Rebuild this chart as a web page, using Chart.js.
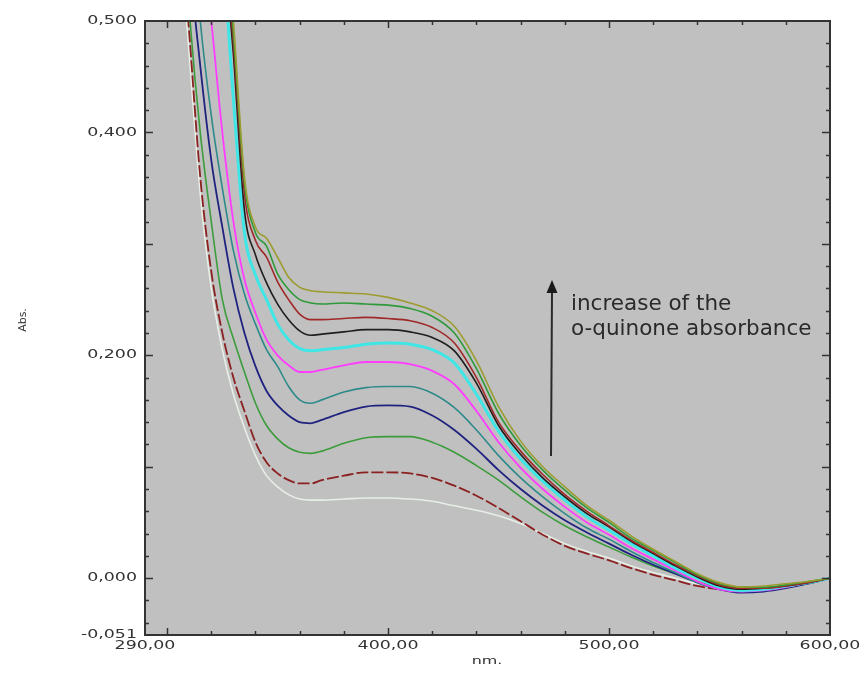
<!DOCTYPE html>
<html>
<head>
<meta charset="utf-8">
<script src="https://cdn.jsdelivr.net/npm/chart.js@4/dist/chart.umd.min.js"></script>
<style>
  html, body { margin: 0; padding: 0; background: #fff; }
  canvas { display: block; }
</style>
</head>
<body>
<canvas id="grafico" width="859" height="673"></canvas>
<script>
// longitudes de onda (nm)
const wavelengths = [300, 305, 310, 315, 320, 325, 330, 335, 340, 345, 350, 355, 360, 365, 370,
  380, 390, 400, 410, 420, 430, 440, 450, 460, 470, 480, 490, 500, 510, 520, 530, 540, 550, 560, 570, 580, 590, 600];

// espectros, de arriba hacia abajo
const absOlive = [1.0, 0.95, 0.89, 0.81, 0.72, 0.62, 0.50, 0.36, 0.315, 0.305, 0.288, 0.270, 0.261, 0.258, 0.257,
  0.256, 0.255, 0.252, 0.247, 0.240, 0.226, 0.195, 0.154, 0.123, 0.100, 0.082, 0.065, 0.052, 0.038, 0.026, 0.015, 0.004, -0.004, -0.008, -0.007, -0.005, -0.003, 0.0];
const absGreen2 = [1.0, 0.95, 0.88, 0.80, 0.71, 0.61, 0.49, 0.355, 0.31, 0.298, 0.273, 0.259, 0.250, 0.247, 0.246,
  0.247, 0.246, 0.245, 0.242, 0.235, 0.220, 0.188, 0.148, 0.119, 0.097, 0.079, 0.063, 0.050, 0.036, 0.025, 0.014, 0.003, -0.005, -0.008, -0.008, -0.006, -0.003, 0.0];
const absRed = [1.0, 0.94, 0.87, 0.79, 0.70, 0.60, 0.48, 0.345, 0.303, 0.288, 0.266, 0.250, 0.237, 0.232, 0.232,
  0.233, 0.234, 0.233, 0.231, 0.225, 0.211, 0.180, 0.140, 0.114, 0.093, 0.075, 0.060, 0.047, 0.034, 0.023, 0.012, 0.002, -0.006, -0.009, -0.009, -0.007, -0.004, 0.0];
const absBlack = [1.0, 0.93, 0.86, 0.78, 0.69, 0.59, 0.47, 0.33, 0.29, 0.265, 0.246, 0.232, 0.222, 0.218, 0.219,
  0.221, 0.223, 0.223, 0.221, 0.216, 0.204, 0.175, 0.137, 0.111, 0.090, 0.073, 0.058, 0.046, 0.033, 0.022, 0.011, 0.001, -0.007, -0.010, -0.009, -0.007, -0.004, 0.0];
const absCyan = [1.0, 0.92, 0.84, 0.76, 0.67, 0.57, 0.43, 0.31, 0.272, 0.25, 0.228, 0.214, 0.206, 0.204, 0.205,
  0.207, 0.210, 0.211, 0.210, 0.205, 0.193, 0.165, 0.132, 0.107, 0.087, 0.070, 0.055, 0.043, 0.031, 0.020, 0.009, 0.000, -0.008, -0.011, -0.010, -0.007, -0.004, 0.0];
const absMagenta = [0.92, 0.81, 0.70, 0.59, 0.50, 0.40, 0.32, 0.268, 0.238, 0.214, 0.200, 0.191, 0.185, 0.185, 0.187,
  0.191, 0.194, 0.194, 0.192, 0.186, 0.174, 0.150, 0.122, 0.099, 0.080, 0.064, 0.050, 0.039, 0.027, 0.017, 0.007, -0.003, -0.010, -0.012, -0.011, -0.008, -0.004, 0.0];
const absTeal = [0.88, 0.76, 0.62, 0.50, 0.415, 0.35, 0.294, 0.255, 0.228, 0.205, 0.19, 0.172, 0.160, 0.157, 0.160,
  0.167, 0.171, 0.172, 0.172, 0.166, 0.153, 0.133, 0.110, 0.090, 0.073, 0.058, 0.045, 0.035, 0.024, 0.014, 0.005, -0.004, -0.010, -0.012, -0.011, -0.008, -0.004, 0.0];
const absNavy = [0.84, 0.71, 0.56, 0.46, 0.375, 0.315, 0.26, 0.22, 0.19, 0.168, 0.155, 0.146, 0.140, 0.139, 0.142,
  0.149, 0.154, 0.155, 0.154, 0.146, 0.133, 0.116, 0.097, 0.080, 0.065, 0.052, 0.041, 0.031, 0.021, 0.012, 0.004, -0.004, -0.010, -0.013, -0.012, -0.009, -0.005, 0.0];
const absGreen3 = [0.80, 0.66, 0.51, 0.40, 0.32, 0.25, 0.215, 0.185, 0.157, 0.137, 0.125, 0.117, 0.113, 0.112, 0.114,
  0.121, 0.126, 0.127, 0.127, 0.122, 0.113, 0.101, 0.088, 0.073, 0.059, 0.047, 0.037, 0.028, 0.019, 0.011, 0.004, -0.003, -0.009, -0.012, -0.011, -0.008, -0.004, 0.0];
const absRedDash = [0.76, 0.62, 0.49, 0.36, 0.275, 0.22, 0.18, 0.15, 0.122, 0.104, 0.094, 0.088, 0.085, 0.085, 0.088,
  0.092, 0.095, 0.095, 0.094, 0.090, 0.083, 0.074, 0.063, 0.051, 0.039, 0.029, 0.022, 0.016, 0.009, 0.003, -0.002, -0.007, -0.010, -0.011, -0.010, -0.007, -0.004, 0.0];
const absPale = [0.74, 0.60, 0.47, 0.345, 0.26, 0.205, 0.165, 0.135, 0.11, 0.092, 0.082, 0.075, 0.071, 0.070, 0.070,
  0.071, 0.072, 0.072, 0.071, 0.069, 0.065, 0.061, 0.056, 0.049, 0.040, 0.031, 0.024, 0.018, 0.011, 0.005, 0.0, -0.005, -0.008, -0.009, -0.008, -0.006, -0.003, 0.0];

// etiquetas de los ejes
const xTickValues = [290, 400, 500, 600];
const xTickLabels = ["290,00", "400,00", "500,00", "600,00"];
const yTickValues = [0.5, 0.4, 0.2, 0, -0.051];
const yTickLabels = ["0,500", "0,400", "0,200", "0,000", "-0,051"];

const SX = 1.45; // fuente ancha de los ejes

function serie(valores) {
  return wavelengths.map((w, i) => ({ x: w, y: valores[i] }));
}

function linea(valores, color, ancho, dash) {
  return {
    data: serie(valores),
    borderColor: color,
    borderWidth: ancho,
    borderDash: dash || [],
    pointRadius: 0,
    cubicInterpolationMode: "monotone",
    fill: false
  };
}

function texto(ctx, t, x, y, align, size, sx) {
  ctx.save();
  ctx.font = size + 'px "DejaVu Sans"';
  ctx.textBaseline = "middle";
  ctx.textAlign = "left";
  const w = ctx.measureText(t).width * sx;
  const left = align === "right" ? x - w : align === "center" ? x - w / 2 : x;
  ctx.translate(left, y);
  ctx.scale(sx, 1);
  ctx.fillText(t, 0, 0);
  ctx.restore();
}

const marco = {
  id: "marco",
  beforeDraw(chart) {
    const { ctx, chartArea: a } = chart;
    ctx.save();
    ctx.fillStyle = "#ffffff";
    ctx.fillRect(0, 0, chart.width, chart.height);
    ctx.fillStyle = "#c0c0c0";
    ctx.fillRect(a.left, a.top, a.right - a.left, a.bottom - a.top);
    ctx.restore();
  },
  afterDatasetsDraw(chart) {
    const { ctx, chartArea: a, scales } = chart;
    const xs = scales.x, ys = scales.y;
    ctx.save();
    ctx.strokeStyle = "#333";
    ctx.lineWidth = 2;
    ctx.strokeRect(a.left, a.top, a.right - a.left, a.bottom - a.top);

    // marcas hacia adentro
    ctx.lineWidth = 1.5;
    ctx.beginPath();
    for (let w = 300; w < 600; w += 20) {
      const px = Math.round(xs.getPixelForValue(w)) + 0.5;
      const len = (w % 100 === 0) ? 7 : 4;
      ctx.moveTo(px, a.bottom); ctx.lineTo(px, a.bottom - len);
      ctx.moveTo(px, a.top); ctx.lineTo(px, a.top + len);
    }
    for (let k = -2; k <= 24; k++) {
      const v = k * 0.02;
      const py = Math.round(ys.getPixelForValue(v)) + 0.5;
      const len = (k % 5 === 0) ? 8 : 4;
      ctx.moveTo(a.left, py); ctx.lineTo(a.left + len, py);
      ctx.moveTo(a.right, py); ctx.lineTo(a.right - len, py);
    }
    ctx.stroke();

    // etiquetas
    ctx.fillStyle = "#333";
    yTickValues.forEach((v, i) => {
      texto(ctx, yTickLabels[i], a.left - 8, ys.getPixelForValue(v), "right", 12, SX);
    });
    xTickValues.forEach((v, i) => {
      texto(ctx, xTickLabels[i], xs.getPixelForValue(v), a.bottom + 11, "center", 12, SX);
    });
    texto(ctx, "nm.", 487, a.bottom + 26, "center", 11, SX);

    ctx.save();
    ctx.translate(23, 320);
    ctx.rotate(-Math.PI / 2);
    ctx.font = '11px "DejaVu Sans"';
    ctx.textAlign = "center";
    ctx.textBaseline = "middle";
    ctx.fillText("Abs.", 0, 0);
    ctx.restore();

    // flecha y nota
    ctx.strokeStyle = "#2a2a2a";
    ctx.fillStyle = "#1a1a1a";
    ctx.lineWidth = 2;
    ctx.beginPath();
    ctx.moveTo(551, 456);
    ctx.lineTo(552, 292);
    ctx.stroke();
    ctx.beginPath();
    ctx.moveTo(552, 280);
    ctx.lineTo(546.5, 293);
    ctx.lineTo(557.5, 293);
    ctx.closePath();
    ctx.fill();

    ctx.fillStyle = "#2a2a2a";
    ctx.font = '21.5px "DejaVu Sans"';
    ctx.textAlign = "left";
    ctx.textBaseline = "alphabetic";
    ctx.fillText("increase of the", 571, 310);
    ctx.fillText("o-quinone absorbance", 571, 335);
    ctx.restore();
  }
};

new Chart(document.getElementById("grafico").getContext("2d"), {
  type: "line",
  data: {
    datasets: [
      linea(absOlive, "#9c9c30", 1.6),
      linea(absGreen2, "#2f9a3a", 1.6),
      linea(absRed, "#a02828", 1.6),
      linea(absBlack, "#1e1e1e", 1.6),
      linea(absCyan, "#3fe6e6", 3),
      linea(absMagenta, "#ff3cff", 1.8),
      linea(absTeal, "#2e8a8a", 1.6),
      linea(absNavy, "#1f237f", 1.8),
      linea(absGreen3, "#3c9c3c", 1.6),
      linea(absRedDash, "#8a2020", 1.8, [12, 3]),
      linea(absPale, "#e6eee6", 1.6)
    ]
  },
  options: {
    responsive: false,
    animation: false,
    devicePixelRatio: 1,
    layout: { padding: { left: 145, right: 29, top: 21, bottom: 38 } },
    plugins: { legend: { display: false }, tooltip: { enabled: false } },
    scales: {
      x: { type: "linear", min: 290, max: 600, display: false },
      y: { min: -0.051, max: 0.5, display: false }
    }
  },
  plugins: [marco]
});
</script>
</body>
</html>
